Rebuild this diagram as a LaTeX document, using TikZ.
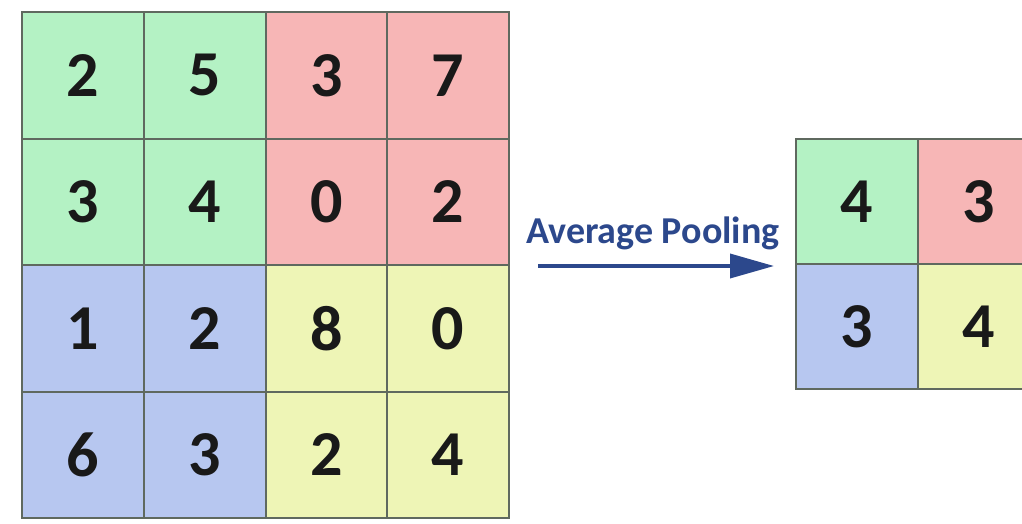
\documentclass[tikz,border=0pt]{standalone}
\usepackage{fontspec}
\setmainfont{Carlito}
\usetikzlibrary{arrows.meta}
\definecolor{cgreen}{RGB}{180,242,196}
\definecolor{cred}{RGB}{247,182,182}
\definecolor{cblue}{RGB}{183,199,240}
\definecolor{cyellow}{RGB}{238,245,182}
\definecolor{cline}{RGB}{95,105,95}
\definecolor{cnum}{RGB}{25,25,25}
\definecolor{carrow}{RGB}{44,72,140}
\tikzset{
  bigcell/.style={draw=cline, line width=2pt, minimum width=121.75pt, minimum height=126.5pt,
    inner sep=0pt, font=\fontsize{64}{64}\selectfont\bfseries, text=cnum, anchor=north west},
  smallcell/.style={draw=cline, line width=2pt, minimum width=122pt, minimum height=125pt,
    inner sep=0pt, font=\fontsize{64}{64}\selectfont\bfseries, text=cnum, anchor=north west},
  label/.style={font=\fontsize{38}{38}\selectfont\bfseries, text=carrow, inner sep=0pt},
  pool/.style={draw=carrow, line width=3.6pt, -{Triangle[length=44pt,width=24pt]}}
}
\begin{document}
\begin{tikzpicture}[x=1pt,y=-1pt]
\useasboundingbox (0,0) rectangle (1022,523);
\begin{scope}
\clip (0,0) rectangle (1022,523);
% left 4x4 grid
\foreach \r/\c/\v/\col in {
 0/0/2/cgreen, 0/1/5/cgreen, 0/2/3/cred, 0/3/7/cred,
 1/0/3/cgreen, 1/1/4/cgreen, 1/2/0/cred, 1/3/2/cred,
 2/0/1/cblue, 2/1/2/cblue, 2/2/8/cyellow, 2/3/0/cyellow,
 3/0/6/cblue, 3/1/3/cblue, 3/2/2/cyellow, 3/3/4/cyellow}{
  \node[bigcell, fill=\col] (a\r\c) at ({21+121.75*\c},{11+126.5*\r}) {\v};
}
% right 2x2 grid
\foreach \r/\c/\v/\col in {0/0/4/cgreen, 0/1/3/cred, 1/0/3/cblue, 1/1/4/cyellow}{
  \node[smallcell, fill=\col] (b\r\c) at ({795+122*\c},{138+125*\r}) {\v};
}
% arrow
\coordinate (s) at (538,266);
\coordinate (e) at (774,266);
\draw[pool] (s) -- (e);
\node[label] (lab) at (653,233) {Average Pooling};
\end{scope}
\end{tikzpicture}
\end{document}
